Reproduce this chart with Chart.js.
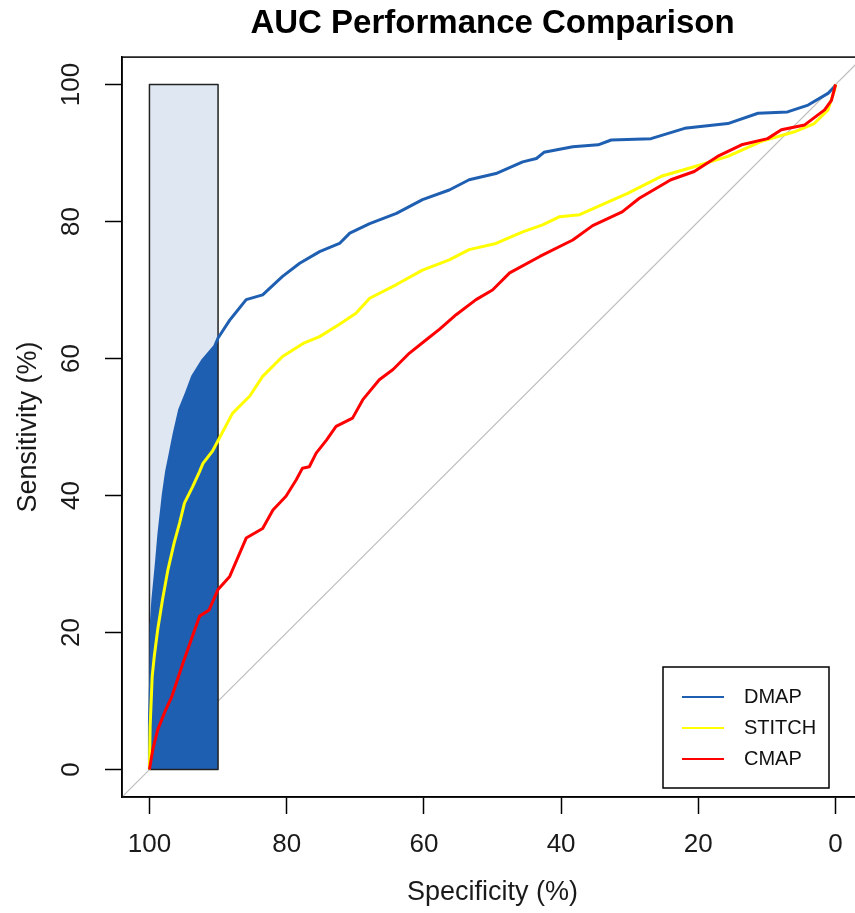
<!DOCTYPE html>
<html>
<head>
<meta charset="utf-8">
<title>AUC Performance Comparison</title>
<script src="https://cdn.jsdelivr.net/npm/chart.js@4.4.1/dist/chart.umd.min.js"></script>
<style>
  html, body { margin: 0; padding: 0; background: #fff; overflow: hidden; }
  #wrap { width: 855px; height: 913px; overflow: hidden; }
</style>
</head>
<body>
<div id="wrap"><canvas id="roc" width="870" height="913"></canvas></div>
<script>
// series (specificity %, sensitivity %)
var seriesNames = ["DMAP", "STITCH", "CMAP"];

var dmapSpec = [100, 100, 99.8, 99.75, 99.5, 99.0, 98.6, 98.0, 97.5, 97.0, 96.4, 95.6, 94.6, 93.7, 92.2, 90.5, 90.0,
  88.3, 87.9, 85.9, 83.5, 80.6, 78.1, 75.2, 72.3, 70.8, 67.9, 64.0, 60.2, 56.3, 53.4, 49.5, 45.6, 43.6, 42.5,
  38.3, 34.6, 32.7, 26.9, 22.0, 15.7, 11.3, 7.0, 4.0, 1.1, 0.15, 0];
var dmapSens = [0, 7, 14, 21, 24.8, 30, 34.6, 40, 43.5, 46, 49, 52.5, 55, 57.4, 59.8, 61.8, 63,
  65.6, 66.1, 68.6, 69.3, 72, 73.9, 75.6, 76.8, 78.3, 79.7, 81.2, 83.2, 84.6, 86.1, 87.0, 88.7, 89.2, 90.1,
  90.9, 91.2, 91.9, 92.1, 93.6, 94.3, 95.8, 96.0, 97.0, 98.7, 99.7, 100];

var stitchSpec = [100, 99.9, 99.6, 99.3, 98.8, 98.1, 97.3, 96.4, 95.6, 94.9, 93.7, 92.7, 92.2, 90.8, 89.8, 87.9,
  85.4, 83.5, 80.6, 77.6, 75.2, 72.3, 69.9, 67.9, 64.0, 60.2, 56.3, 53.4, 49.5, 45.6, 42.7, 40.2, 37.3, 34.6,
  30.3, 25.4, 20.6, 15.7, 10.8, 6.0, 3.1, 1.1, 0.15, 0];
var stitchSens = [0, 6.3, 13.6, 16.5, 20.4, 24.8, 29.2, 33.1, 36.0, 38.9, 41.3, 43.5, 44.7, 46.5, 48.4, 52.0,
  54.5, 57.4, 60.3, 62.2, 63.2, 65.0, 66.6, 68.8, 70.8, 72.9, 74.4, 75.9, 76.8, 78.5, 79.5, 80.7, 81.0, 82.2,
  84.1, 86.6, 88.0, 89.5, 91.7, 93.1, 94.3, 96.3, 99.2, 100];

var cmapSpec = [100, 99.5, 98.8, 97.6, 96.8, 95.1, 92.7, 91.3, 90.0, 88.3, 85.9, 83.5, 82.0, 80.1, 78.6, 77.7,
  76.7, 75.7, 74.2, 72.8, 70.4, 68.9, 66.5, 64.5, 62.1, 59.7, 57.7, 55.3, 52.4, 50.0, 47.5, 43.1, 38.3, 35.4,
  31.1, 28.6, 24.0, 20.6, 17.2, 13.7, 9.9, 7.9, 4.5, 1.6, 0.6, 0];
var cmapSens = [0, 3, 5.8, 8.8, 10.5, 15.6, 22.4, 23.3, 26.3, 28.2, 33.8, 35.2, 37.9, 39.9, 42.3, 44.0,
  44.2, 46.2, 48.1, 50.1, 51.3, 54.0, 56.9, 58.4, 60.8, 62.7, 64.3, 66.4, 68.6, 70.0, 72.5, 74.9, 77.3, 79.4,
  81.4, 83.4, 86.1, 87.3, 89.5, 91.2, 92.1, 93.4, 94.1, 96.3, 97.7, 100];

// partial AUC window (specificity 100 -> 90) and chance line
var pAucSpec = [100, 90];
var chanceSpec = [104, -4];
var chanceSens = [-4, 104];

var xTicks = [100, 80, 60, 40, 20, 0];
var yTicks = [0, 20, 40, 60, 80, 100];

var seriesColors = ["#1f5fb2", "#ffff00", "#ff0000"];
var fontFamily = "'Liberation Sans', Arial, Helvetica, sans-serif";

function toPoints(xs, ys) {
  return xs.map(function (x, i) { return { x: x, y: ys[i] }; });
}

var dmapPts = toPoints(dmapSpec, dmapSens);
var pAucArea = dmapPts.filter(function (p) { return p.x <= pAucSpec[0] && p.x >= pAucSpec[1]; });
var pAucBand = toPoints(pAucSpec, [100, 100]);
var pAucOutline = toPoints(
  [pAucSpec[0], pAucSpec[0], pAucSpec[1], pAucSpec[1], pAucSpec[0]],
  [0, 100, 100, 0, 0]);

var plotBox = {
  id: "plotBox",
  afterDatasetsDraw: function (chart) {
    var a = chart.chartArea, ctx = chart.ctx;
    ctx.save();
    ctx.strokeStyle = "#000";
    ctx.lineWidth = 1.5;
    ctx.strokeRect(a.left, a.top, a.right - a.left, a.bottom - a.top);
    ctx.restore();
  }
};

// R style legend box in the bottom right corner
var rLegend = {
  id: "rLegend",
  afterDraw: function (chart) {
    var a = chart.chartArea, ctx = chart.ctx;
    var w = 166, h = 121;
    var left = a.right - 34 - w, top = a.bottom - 9 - h;
    ctx.save();
    ctx.fillStyle = "#fff";
    ctx.fillRect(left, top, w, h);
    ctx.strokeStyle = "#000";
    ctx.lineWidth = 1.5;
    ctx.strokeRect(left, top, w, h);
    ctx.font = "20px " + fontFamily;
    ctx.textBaseline = "middle";
    ctx.textAlign = "left";
    seriesNames.forEach(function (name, i) {
      var y = top + 30 + i * 31;
      ctx.strokeStyle = seriesColors[i];
      ctx.lineWidth = 2;
      ctx.beginPath();
      ctx.moveTo(left + 19, y);
      ctx.lineTo(left + 61, y);
      ctx.stroke();
      ctx.fillStyle = "#111";
      ctx.fillText(name, left + 81, y);
    });
    ctx.restore();
  }
};

var lineBase = { pointRadius: 0, tension: 0, fill: false, borderJoinStyle: "round" };

new Chart(document.getElementById("roc"), {
  type: "line",
  data: {
    datasets: [
      Object.assign({}, lineBase, { label: seriesNames[2], data: toPoints(cmapSpec, cmapSens), borderColor: seriesColors[2], borderWidth: 3 }),
      Object.assign({}, lineBase, { label: seriesNames[1], data: toPoints(stitchSpec, stitchSens), borderColor: seriesColors[1], borderWidth: 3 }),
      Object.assign({}, lineBase, { label: seriesNames[0], data: dmapPts, borderColor: seriesColors[0], borderWidth: 3 }),
      Object.assign({}, lineBase, { label: "outline", data: pAucOutline, borderColor: "#222", borderWidth: 1.5 }),
      Object.assign({}, lineBase, { label: "pAUC", data: pAucArea, borderWidth: 0, borderColor: "rgba(0,0,0,0)", backgroundColor: seriesColors[0], fill: "origin" }),
      Object.assign({}, lineBase, { label: "band", data: pAucBand, borderWidth: 0, borderColor: "rgba(0,0,0,0)", backgroundColor: "#dfe7f2", fill: "origin" }),
      Object.assign({}, lineBase, { label: "chance", data: toPoints(chanceSpec, chanceSens), borderColor: "#bebebe", borderWidth: 1.2 })
    ]
  },
  options: {
    responsive: false,
    animation: false,
    events: [],
    layout: { padding: { left: 0, right: 7, top: 0, bottom: 0 } },
    plugins: {
      legend: { display: false },
      tooltip: { enabled: false },
      title: {
        display: true,
        fullSize: false,
        text: "AUC Performance Comparison",
        color: "#000",
        font: { family: fontFamily, size: 33, weight: "bold" },
        padding: { top: 4, bottom: 13.5 }
      }
    },
    scales: {
      x: {
        type: "linear",
        reverse: true,
        min: -4,
        max: 104,
        afterBuildTicks: function (scale) { scale.ticks = xTicks.map(function (v) { return { value: v }; }); },
        afterFit: function (scale) { scale.height = 116; },
        ticks: {
          color: "#1a1a1a",
          padding: 15,
          font: { family: fontFamily, size: 26 },
          callback: function (v) { return String(v); }
        },
        grid: { drawOnChartArea: false, drawTicks: true, tickLength: 17, tickColor: "#000", tickWidth: 1.5 },
        border: { display: true, color: "#000", width: 1.5 },
        title: {
          display: true,
          text: "Specificity (%)",
          color: "#1a1a1a",
          font: { family: fontFamily, size: 27 },
          padding: { top: 0, bottom: 4 }
        }
      },
      y: {
        type: "linear",
        min: -4,
        max: 104,
        afterBuildTicks: function (scale) { scale.ticks = yTicks.map(function (v) { return { value: v }; }); },
        afterFit: function (scale) { scale.width = 122; },
        ticks: {
          color: "#1a1a1a",
          padding: 11,
          minRotation: 90,
          maxRotation: 90,
          crossAlign: "center",
          font: { family: fontFamily, size: 26 },
          callback: function (v) { return String(v); }
        },
        grid: { drawOnChartArea: false, drawTicks: true, tickLength: 17, tickColor: "#000", tickWidth: 1.5 },
        border: { display: true, color: "#000", width: 1.5 },
        title: {
          display: true,
          text: "Sensitivity (%)",
          color: "#1a1a1a",
          font: { family: fontFamily, size: 27 },
          padding: { top: 12, bottom: 0 }
        }
      }
    }
  },
  plugins: [plotBox, rLegend]
});
</script>
</body>
</html>
